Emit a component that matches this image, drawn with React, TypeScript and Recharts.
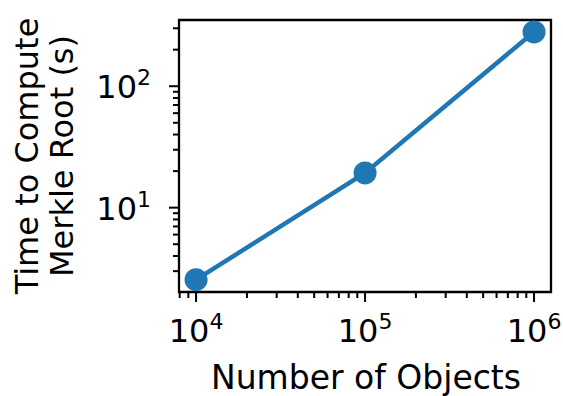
import { Line, LineChart, ReferenceArea, XAxis, YAxis } from "recharts";

const objects = [1e4, 1e5, 1e6];
const seconds = [2.55, 19.3, 280];

const xTicks = [
  8000, 9000, 1e4, 2e4, 3e4, 4e4, 5e4, 6e4, 7e4, 8e4, 9e4,
  1e5, 2e5, 3e5, 4e5, 5e5, 6e5, 7e5, 8e5, 9e5, 1e6,
];
const yTicks = [3, 4, 5, 6, 7, 8, 9, 10, 20, 30, 40, 50, 60, 70, 80, 90, 100, 200, 300];

const xDomain = [7925, 1.26e6];
const yDomain = [2.02, 351];

const data = objects.map((n, i) => ({ n, t: seconds[i] }));

const FONT = "'DejaVu Sans', sans-serif";
const BLUE = "#1f77b4";

const exponentOf = (v: number) => {
  const e = Math.log10(v);
  return Math.abs(e - Math.round(e)) < 1e-9 ? Math.round(e) : null;
};

// tick marks + mathtext-like "10^n" labels, drawn from the axis position
function XTick(props: any) {
  const { x, y, payload } = props;
  const exp = exponentOf(payload.value);
  const len = exp !== null ? 10 : 6;
  return (
    <g>
      <line x1={x} y1={y} x2={x} y2={y + len} stroke="#000" strokeWidth={2} />
      {exp !== null && (
        <text x={x} y={y + 50} textAnchor="middle" fontFamily={FONT} fontSize={32} fill="#000">
          <tspan>10</tspan>
          <tspan fontSize={22} dy={-13}>{exp}</tspan>
        </text>
      )}
    </g>
  );
}

function YTick(props: any) {
  const { x, y, payload } = props;
  const exp = exponentOf(payload.value);
  const len = exp !== null ? 10 : 6;
  return (
    <g>
      <line x1={x} y1={y} x2={x - len} y2={y} stroke="#000" strokeWidth={2} />
      {exp !== null && (
        <text x={x - 28} y={y + 12} textAnchor="end" fontFamily={FONT} fontSize={32} fill="#000">
          <tspan>10</tspan>
          <tspan fontSize={22} dy={-13}>{exp}</tspan>
        </text>
      )}
    </g>
  );
}

function YTitle(props: any) {
  const { viewBox } = props;
  const cy = viewBox.y + viewBox.height / 2;
  return (
    <g fontFamily={FONT} fontSize={32} fill="#000">
      <text x={38} y={cy} textAnchor="middle" transform={`rotate(-90, 38, ${cy})`}>
        Time to Compute
      </text>
      <text x={73} y={cy} textAnchor="middle" transform={`rotate(-90, 73, ${cy})`}>
        Merkle Root (s)
      </text>
    </g>
  );
}

function XTitle(props: any) {
  const { viewBox } = props;
  return (
    <text
      x={viewBox.x + viewBox.width / 2 + 1}
      y={viewBox.y + 97}
      textAnchor="middle"
      fontFamily={FONT}
      fontSize={33}
      fill="#000"
    >
      Number of Objects
    </text>
  );
}

export default function App() {
  return (
    <div style={{ position: "absolute", left: 0, top: 0, width: 563, height: 396, background: "#fff" }}>
      <LineChart width={563} height={396} data={data} margin={{ top: 20, right: 12, bottom: 0, left: 0 }}>
        <XAxis
          dataKey="n"
          type="number"
          scale="log"
          domain={xDomain}
          allowDataOverflow
          ticks={xTicks}
          interval={0}
          tickSize={0}
          tickMargin={0}
          axisLine={false}
          tick={<XTick />}
          height={104}
          label={{ content: <XTitle /> }}
        />
        <YAxis
          dataKey="t"
          type="number"
          scale="log"
          domain={yDomain}
          allowDataOverflow
          ticks={yTicks}
          interval={0}
          tickSize={0}
          tickMargin={0}
          axisLine={false}
          tick={<YTick />}
          width={179}
          label={{ content: <YTitle /> }}
        />
        <Line
          dataKey="t"
          stroke={BLUE}
          strokeWidth={4.5}
          dot={{ r: 11.5, fill: BLUE, stroke: "none" }}
          isAnimationActive={false}
        />
        <ReferenceArea
          x1={xDomain[0]}
          x2={xDomain[1]}
          y1={yDomain[0]}
          y2={yDomain[1]}
          fill="none"
          stroke="#000"
          strokeWidth={2.3}
          ifOverflow="visible"
        />
      </LineChart>
    </div>
  );
}
